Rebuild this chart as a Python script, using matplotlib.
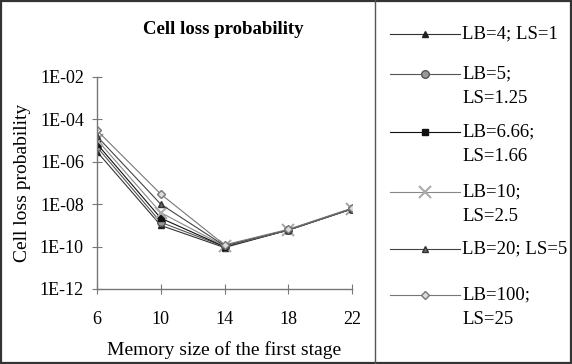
import math
import matplotlib.pyplot as plt
from matplotlib.lines import Line2D
from matplotlib.patches import Rectangle
from matplotlib.ticker import FixedLocator, FuncFormatter

plt.rcParams['font.family'] = ['Liberation Serif', 'DejaVu Serif']

# datos
memoria = [6, 10, 14, 18, 22]
etiquetas = ['LB=4; LS=1', 'LB=5;\nLS=1.25', 'LB=6.66;\nLS=1.66',
             'LB=10;\nLS=2.5', 'LB=20; LS=5', 'LB=100;\nLS=25']
p_lb4 = [3e-6, 1.0e-9, 9e-11, 6e-10, 6e-9]
p_lb5 = [5e-6, 1.4e-9, 1.0e-10, 6e-10, 6e-9]
p_lb666 = [7e-6, 2.2e-9, 1.0e-10, 6e-10, 6e-9]
p_lb10 = [1.1e-5, 4e-9, 1.05e-10, 6e-10, 6e-9]
p_lb20 = [1.6e-5, 1e-8, 1.1e-10, 6.2e-10, 6.2e-9]
p_lb100 = [3e-5, 3e-8, 1.2e-10, 6.5e-10, 6.5e-9]
series = [p_lb4, p_lb5, p_lb666, p_lb10, p_lb20, p_lb100]

# estilos de cada serie: marcador, tamano, relleno, borde, color de linea
estilos = [
    dict(marker='^', ms=5, mfc='#222222', mec='#222222', color='#333333'),
    dict(marker='o', ms=5.5, mfc='#999999', mec='#555555', color='#555555'),
    dict(marker='s', ms=5, mfc='#111111', mec='#111111', color='#111111'),
    dict(marker='x', ms=8, mfc='none', mec='#aaaaaa', color='#888888', mew=1.5),
    dict(marker='^', ms=5, mfc='#666666', mec='#333333', color='#444444'),
    dict(marker='D', ms=4, mfc='#dddddd', mec='#777777', color='#777777'),
]

fig = plt.figure(figsize=(5.72, 3.64), dpi=100)
W, H = 572, 364

ax = fig.add_axes([97 / W, 1 - 289 / H, (352 - 97) / W, (289 - 77) / H])
for valores, est in zip(series, estilos):
    ax.plot(memoria, valores, lw=0.8, **est)

ax.set_yscale('log')
ax.set_ylim(1e-12, 1e-2)
ax.set_xlim(6, 22)
ax.yaxis.set_major_locator(FixedLocator([1e-12, 1e-10, 1e-8, 1e-6, 1e-4, 1e-2]))
ax.yaxis.set_minor_locator(FixedLocator([]))
ax.yaxis.set_major_formatter(FuncFormatter(lambda v, p: '1E-%02d' % round(-math.log10(v))))
ax.set_xticks(memoria)
for s in ['top', 'right']:
    ax.spines[s].set_visible(False)
for s in ['left', 'bottom']:
    ax.spines[s].set_color('#777777')
    ax.spines[s].set_linewidth(1.0)
ax.tick_params(direction='inout', length=7, color='#777777', labelsize=13)
ax.tick_params(axis='x', pad=12)
ax.tick_params(axis='y', pad=6)
ax.set_xlabel('Memory size of the first stage', fontsize=14, labelpad=10)
ax.set_ylabel('Cell loss probability', fontsize=14, labelpad=6)
ax.patch.set_alpha(0)

fig.text(223 / W, 1 - 30 / H, 'Cell loss probability', fontsize=13.5, fontweight='bold',
         ha='center', va='center')

# bordes del grafico y del cuadro de leyenda
fig.patches.append(Rectangle((1 / W, 1 / H), 1 - 2 / W, 1 - 2 / H, transform=fig.transFigure,
                             fill=False, ec='#333333', lw=1.6))
fig.lines.append(Line2D([375 / W, 375 / W], [0, 1], transform=fig.transFigure,
                        color='#555555', lw=1.0))

# leyenda dibujada a mano
leg_y = [34, 74, 132, 192, 249, 295]
for yy, etiqueta, est in zip(leg_y, etiquetas, estilos):
    yf = 1 - yy / H
    fig.lines.append(Line2D([390 / W, 460 / W], [yf, yf], transform=fig.transFigure, lw=0.8,
                            color=est['color']))
    e = dict(est)
    e.pop('color')
    fig.lines.append(Line2D([425 / W], [yf], transform=fig.transFigure, ls='none', **e))
    fig.text(462 / W, yf + 9 / H, etiqueta, fontsize=13.5, ha='left', va='top',
             linespacing=1.65)

fig.savefig('out.png', dpi=100)
